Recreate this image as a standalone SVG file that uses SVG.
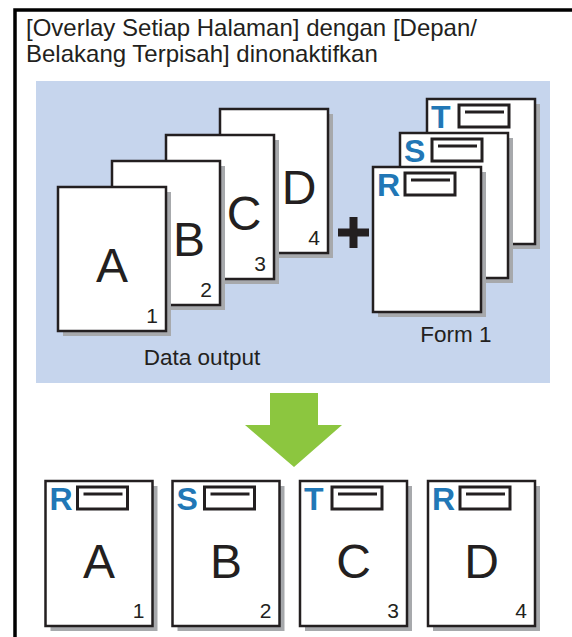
<svg xmlns="http://www.w3.org/2000/svg" width="572" height="637" viewBox="0 0 572 637">
<style>
text{font-family:"Liberation Sans",Arial,Helvetica,sans-serif;fill:#231f20}
.pg{fill:#fff;stroke:#231f20;stroke-width:2.5}
.sh{fill:#a7a9ac}
.big{font-size:48px;text-anchor:middle}
.num{font-size:21px;text-anchor:end}
.tag{font-size:32px;font-weight:bold;fill:#2177b6}
.box{fill:#fff;stroke:#231f20;stroke-width:3}
.bar{stroke:#231f20;stroke-width:3}
.lbl{font-size:22.5px;text-anchor:middle}
.ttl{font-size:24px}
</style>
<defs>
<g id="formTop">
<rect class="box" x="32" y="6" width="50" height="22"/>
<line class="bar" x1="38" y1="13" x2="77" y2="13"/>
</g>
</defs>
<rect width="572" height="637" fill="#fff"/>
<rect id="frame" x="15" y="10" width="600" height="700" fill="none" stroke="#000" stroke-width="3.5"/>
<g id="title">
<text class="ttl" x="26" y="36">[Overlay Setiap Halaman] dengan [Depan/</text>
<text class="ttl" x="26" y="62">Belakang Terpisah] dinonaktifkan</text>
</g>
<rect id="panel" x="36" y="81" width="514" height="302" fill="#c6d5ed"/>
<g id="data-output">
<g id="page-D">
<rect class="sh" x="225" y="114" width="108" height="144"/>
<rect class="pg" x="220" y="109" width="108" height="144"/>
<text class="big" x="299" y="203.5">D</text>
<text class="num" x="320" y="245">4</text>
</g>
<g id="page-C">
<rect class="sh" x="171" y="140" width="108" height="144"/>
<rect class="pg" x="166" y="135" width="108" height="144"/>
<text class="big" x="244" y="229.5">C</text>
<text class="num" x="266" y="271">3</text>
</g>
<g id="page-B">
<rect class="sh" x="117" y="166" width="108" height="144"/>
<rect class="pg" x="112" y="161" width="108" height="144"/>
<text class="big" x="189" y="255.5">B</text>
<text class="num" x="212" y="297">2</text>
</g>
<g id="page-A">
<rect class="sh" x="63" y="192" width="108" height="144"/>
<rect class="pg" x="58" y="187" width="108" height="144"/>
<text class="big" x="112" y="281.5">A</text>
<text class="num" x="158" y="323">1</text>
</g>
<text id="label-data" class="lbl" x="202" y="365">Data output</text>
</g>
<g id="plus" fill="#231f20">
<rect x="338" y="228.5" width="31" height="8"/>
<rect x="349.5" y="217" width="8" height="31"/>
</g>
<g id="form-1">
<g id="form-T" transform="translate(427,99)">
<rect class="sh" x="5" y="5" width="108" height="145"/>
<rect class="pg" x="0" y="0" width="108" height="145"/>
<text class="tag" x="4" y="29">T</text>
<use href="#formTop"/>
</g>
<g id="form-S" transform="translate(400,133)">
<rect class="sh" x="5" y="5" width="108" height="145"/>
<rect class="pg" x="0" y="0" width="108" height="145"/>
<text class="tag" x="4" y="29">S</text>
<use href="#formTop"/>
</g>
<g id="form-R" transform="translate(373,167)">
<rect class="sh" x="5" y="5" width="108" height="145"/>
<rect class="pg" x="0" y="0" width="108" height="145"/>
<text class="tag" x="4" y="29">R</text>
<use href="#formTop"/>
</g>
<text id="label-form" class="lbl" x="456" y="342">Form 1</text>
</g>
<g id="connectors">
<polygon id="arrow" points="270,393 318,393 318,425 342,425 294,467 245,425 270,425" fill="#8cc63f"/>
</g>
<g id="result">
<g id="result-1" transform="translate(45.5,481)">
<rect class="sh" x="5" y="5" width="107" height="145"/>
<rect class="pg" x="0" y="0" width="107" height="145"/>
<text class="tag" x="4" y="29">R</text>
<use href="#formTop"/>
<text class="big" x="53.5" y="97">A</text>
<text class="num" x="99" y="137">1</text>
</g>
<g id="result-2" transform="translate(172.5,481)">
<rect class="sh" x="5" y="5" width="107" height="145"/>
<rect class="pg" x="0" y="0" width="107" height="145"/>
<text class="tag" x="4" y="29">S</text>
<use href="#formTop"/>
<text class="big" x="53.5" y="97">B</text>
<text class="num" x="99" y="137">2</text>
</g>
<g id="result-3" transform="translate(300,481)">
<rect class="sh" x="5" y="5" width="107" height="145"/>
<rect class="pg" x="0" y="0" width="107" height="145"/>
<text class="tag" x="4" y="29">T</text>
<use href="#formTop"/>
<text class="big" x="53.5" y="97">C</text>
<text class="num" x="99" y="137">3</text>
</g>
<g id="result-4" transform="translate(428,481)">
<rect class="sh" x="5" y="5" width="107" height="145"/>
<rect class="pg" x="0" y="0" width="107" height="145"/>
<text class="tag" x="4" y="29">R</text>
<use href="#formTop"/>
<text class="big" x="53.5" y="97">D</text>
<text class="num" x="99" y="137">4</text>
</g>
</g>
</svg>
